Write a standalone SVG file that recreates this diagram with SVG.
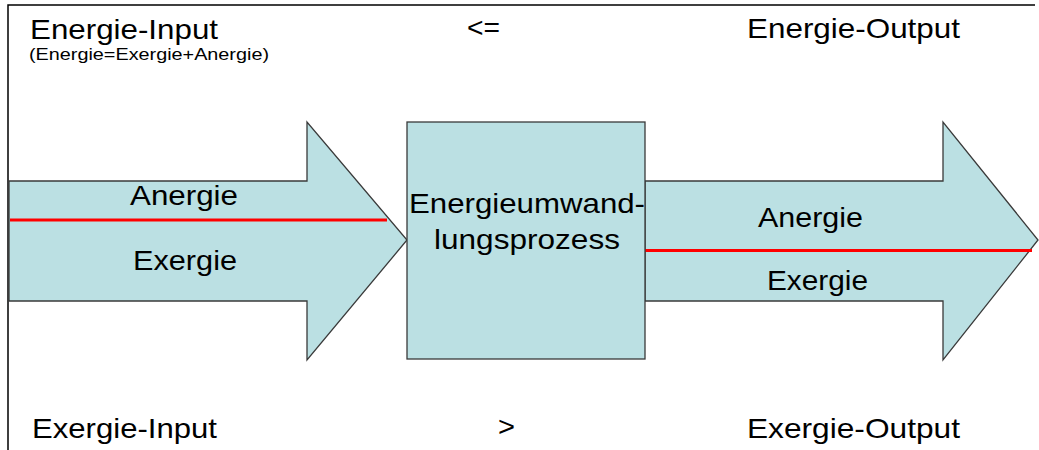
<svg xmlns="http://www.w3.org/2000/svg" width="1039" height="450" viewBox="0 0 1039 450">
<style>
text{font-family:"Liberation Sans",Arial,sans-serif;fill:#000;}
.t{font-size:28px;}
.s{font-size:17px;}
.a{font-size:27px;}
.shape{fill:#BBE0E3;stroke:#3a3a3a;stroke-width:1.3;}
.red{stroke:#FF0000;stroke-width:3;fill:none;}
.frame{stroke:#000;stroke-width:1.5;fill:none;}
</style>
<rect width="1039" height="450" fill="#fff"/>
<path class="frame" d="M8,450 V5 H1035"/>
<g id="labels">
<text class="t" x="30" y="39" textLength="188" lengthAdjust="spacingAndGlyphs">Energie-Input</text>
<text class="s" x="29" y="60" textLength="240" lengthAdjust="spacingAndGlyphs">(Energie=Exergie+Anergie)</text>
<text class="t" x="467" y="37" textLength="33" lengthAdjust="spacingAndGlyphs">&lt;=</text>
<text class="t" x="747" y="38" textLength="213" lengthAdjust="spacingAndGlyphs">Energie-Output</text>
<text class="t" x="32" y="438" textLength="185" lengthAdjust="spacingAndGlyphs">Exergie-Input</text>
<text class="t" x="498" y="436" textLength="17" lengthAdjust="spacingAndGlyphs">&gt;</text>
<text class="t" x="747" y="438" textLength="213" lengthAdjust="spacingAndGlyphs">Exergie-Output</text>
</g>
<g id="input-arrow">
<path class="shape" d="M9,181 H307 V122 L407,240 L307,360 V301 H9 Z"/>
<line class="red" x1="10" y1="220" x2="387" y2="220"/>
<text class="a" x="130" y="205" textLength="108" lengthAdjust="spacingAndGlyphs">Anergie</text>
<text class="a" x="133" y="270" textLength="104" lengthAdjust="spacingAndGlyphs">Exergie</text>
</g>
<g id="output-arrow">
<path class="shape" d="M645,181 H943 V122 L1038,240 L943,360 V301 H645 Z"/>
<line class="red" x1="645" y1="250.5" x2="1032" y2="250.5"/>
<text class="a" x="758" y="227" textLength="105" lengthAdjust="spacingAndGlyphs">Anergie</text>
<text class="a" x="767" y="290" textLength="101" lengthAdjust="spacingAndGlyphs">Exergie</text>
</g>
<g id="process">
<rect class="shape" x="407" y="122" width="238" height="237"/>
<text class="t" x="409" y="213" textLength="236" lengthAdjust="spacingAndGlyphs">Energieumwand-</text>
<text class="t" x="434" y="249" textLength="186" lengthAdjust="spacingAndGlyphs">lungsprozess</text>
</g>
<g id="connectors"></g>
</svg>
